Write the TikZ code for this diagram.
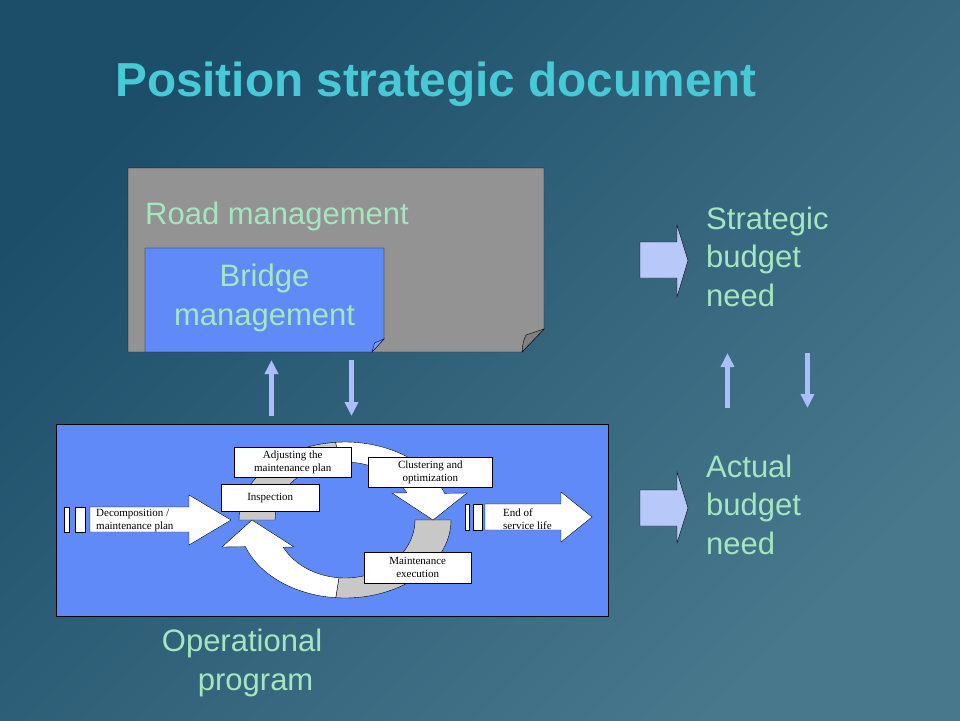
\documentclass[tikz,border=0pt]{standalone}
\usepackage{fontspec}
\setmainfont{Liberation Sans}
\newfontfamily\boxfont{Liberation Serif}
\usetikzlibrary{positioning}
\usetikzlibrary{arrows.meta}
\usetikzlibrary{calc}

\definecolor{bgdark}{RGB}{28,78,106}
\definecolor{bglight}{RGB}{72,120,140}
\definecolor{titlecyan}{RGB}{72,202,214}
\definecolor{textgreen}{RGB}{164,230,190}
\definecolor{panelgray}{RGB}{147,147,147}
\definecolor{foldgray}{RGB}{128,128,128}
\definecolor{panelblue}{RGB}{96,138,248}
\definecolor{foldblue}{RGB}{120,160,250}
\definecolor{paleblue}{RGB}{184,200,248}
\definecolor{linkblue}{RGB}{170,190,248}
\definecolor{ribbongray}{RGB}{200,200,200}

\begin{document}
\begin{tikzpicture}[
  x=1pt, y=-1pt,
  bigtext/.style = {text=textgreen, font=\fontsize{31}{38.5}\selectfont, inner sep=0pt},
  smallbox/.style = {draw=black, fill=white, thin, align=center, inner sep=0pt,
    font=\boxfont\fontsize{11}{13}\selectfont},
  smalltext/.style = {inner sep=0pt, align=left, font=\boxfont\fontsize{11}{13}\selectfont},
  outline/.style = {draw=black, thin},
  link/.style = {draw=linkblue, line width=4.5pt, -{Triangle[width=13pt,length=14pt]}},
  >={Stealth[scale=1.2]}
]

  \useasboundingbox (0,0) rectangle (960,720);
  \shade[top color=bgdark, bottom color=bglight, shading angle=45] (0,0) rectangle (960,720);

  \node[anchor=base west, text=titlecyan, inner sep=0pt,
    font=\fontsize{47.7}{56}\bfseries\selectfont] (title) at (115,96) {Position strategic document};

  % road management sheet
  \filldraw[outline, fill=panelgray] (128,168) -- (544,168) -- (544,329) -- (522,352) -- (128,352) -- cycle;
  \filldraw[outline, fill=foldgray] (522,352) .. controls (523,342) .. (526,335) -- (544,329) -- cycle;
  \node[bigtext, anchor=base west] (road) at (145,224) {Road management};

  % bridge management sheet
  \filldraw[outline, fill=panelblue] (145,248) -- (384,248) -- (384,339) -- (372,352) -- (145,352) -- cycle;
  \filldraw[draw=black!70!blue, thin, fill=foldblue] (372,352) .. controls (373,347) .. (374.5,343) -- (384,339) -- cycle;
  \node[bigtext, anchor=north, align=center] (bridge) at (264.5,264) {Bridge\\management};

  % operational program
  \filldraw[outline, fill=panelblue] (56,424) rectangle (608,616);
  \node[bigtext, anchor=north west, align=left] (oper) at (161.7,629) {Operational\\\hspace*{36pt}program};

  \coordinate (C) at (345,520);
  % back of the ribbons
  \filldraw[outline, fill=ribbongray] ($(C)+(-180:106 and 78)$)
    arc[start angle=-180, end angle=-95, x radius=106, y radius=78]
    -- ($(C)+(-95:70 and 58)$)
    arc[start angle=-95, end angle=-180, x radius=70, y radius=58] -- cycle;
  \filldraw[outline, fill=ribbongray] ($(C)+(0:106 and 78)$)
    arc[start angle=0, end angle=95, x radius=106, y radius=78]
    -- ($(C)+(95:70 and 58)$)
    arc[start angle=95, end angle=0, x radius=70, y radius=58] -- cycle;
  % front of the ribbons
  \filldraw[outline, fill=white] ($(C)+(-95:106 and 78)$)
    arc[start angle=-95, end angle=-20, x radius=106, y radius=78]
    -- (467,493) -- (433,520) -- (392,493)
    -- ($(C)+(-28:70 and 58)$)
    arc[start angle=-28, end angle=-95, x radius=70, y radius=58] -- cycle;
  \filldraw[outline, fill=white] ($(C)+(95:106 and 78)$)
    arc[start angle=95, end angle=160, x radius=106, y radius=78]
    -- (222,547) -- (252,520) -- (294,547)
    -- ($(C)+(152:70 and 58)$)
    arc[start angle=152, end angle=95, x radius=70, y radius=58] -- cycle;

  \node[smallbox, minimum width=117pt, minimum height=30pt] (adjust) at (292.7,462.3) {Adjusting the\\maintenance plan};
  \node[smallbox, minimum width=98pt, minimum height=27pt] (inspect) at (270.2,497.7) {Inspection};
  \node[smallbox, minimum width=124pt, minimum height=30pt] (cluster) at (430.3,472.3) {Clustering and\\optimization};
  \node[smallbox, minimum width=107pt, minimum height=31pt] (maint) at (417.7,567.8) {Maintenance\\execution};

  % in and out of the cycle
  \filldraw[outline, fill=white] (64,507) rectangle (69,532);
  \filldraw[outline, fill=white] (75,507) rectangle (85,532);
  \filldraw[outline, fill=white] (90,507) -- (189,507) -- (189,495) -- (231,520) -- (189,545) -- (189,532) -- (90,532) -- cycle;
  \node[smalltext, anchor=west] (decomp) at (96,521) {Decomposition /\\maintenance plan};

  \filldraw[outline, fill=white] (465,504) rectangle (469,530);
  \filldraw[outline, fill=white] (473,504) rectangle (482,530);
  \filldraw[outline, fill=white] (485,504) -- (561,504) -- (561,492) -- (592,517) -- (561,542) -- (561,530) -- (485,530) -- cycle;
  \node[smalltext, anchor=west] (endlife) at (503,519.5) {End of\\service life};

  % budget side
  \filldraw[outline, fill=paleblue] (640,242) -- (677,242) -- (677,225) -- (688,260.5) -- (677,297) -- (677,278) -- (640,278) -- cycle;
  \filldraw[outline, fill=paleblue] (640,490) -- (677,490) -- (677,472) -- (688,508) -- (677,543) -- (677,526) -- (640,526) -- cycle;
  \node[bigtext, anchor=north west, align=left] (strat) at (706,206.5) {Strategic\\budget\\need};
  \node[bigtext, anchor=north west, align=left] (actual) at (706,454.5) {Actual\\budget\\need};

  \coordinate (upA) at (271.5,416);
  \coordinate (upB) at (271.5,360);
  \coordinate (dnA) at (351.5,360);
  \coordinate (dnB) at (351.5,416);
  \coordinate (upC) at (727.5,408);
  \coordinate (upD) at (727.5,353);
  \coordinate (dnC) at (807.5,353);
  \coordinate (dnD) at (807.5,408);
  \draw[link] (upA) -- (upB);
  \draw[link] (dnA) -- (dnB);
  \draw[link] (upC) -- (upD);
  \draw[link] (dnC) -- (dnD);
  % \draw[thin,red] (C) circle (2pt);

\end{tikzpicture}
\end{document}
